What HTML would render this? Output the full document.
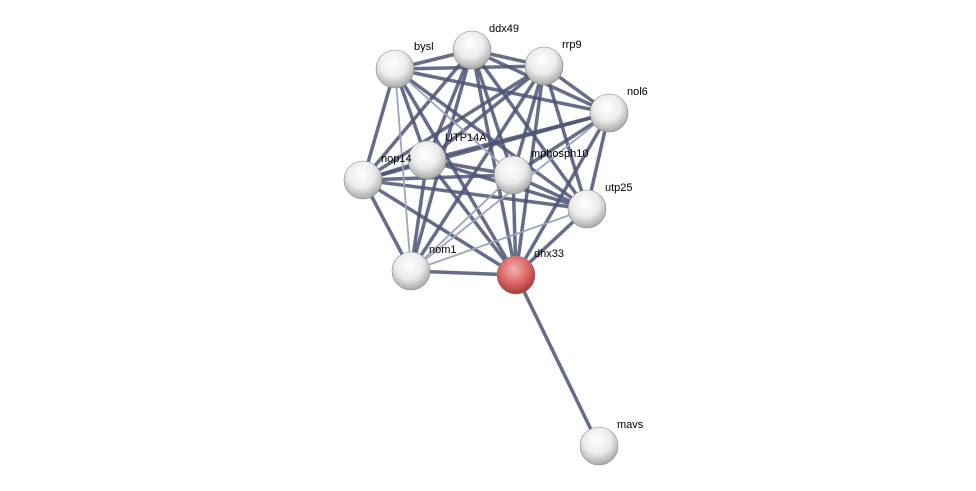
<!DOCTYPE html>
<html><head><meta charset="utf-8"><style>
html,body{margin:0;padding:0;background:#fff;}
svg{display:block;}
text{font-family:"Liberation Sans",sans-serif;font-size:11px;fill:#000;}
</style></head><body>
<svg width="976" height="491" viewBox="0 0 976 491" xmlns="http://www.w3.org/2000/svg">
<defs>
<radialGradient id="g" cx="45%" cy="35%" r="65%">
<stop offset="0" stop-color="#ffffff"/><stop offset="0.55" stop-color="#ececec"/><stop offset="1" stop-color="#a8a8a8"/>
</radialGradient>
<radialGradient id="r" cx="45%" cy="35%" r="65%">
<stop offset="0" stop-color="#f4b0b0"/><stop offset="0.55" stop-color="#dc6a6a"/><stop offset="1" stop-color="#a83838"/>
</radialGradient>
</defs>
<g stroke="#4c5474" stroke-width="3.5" stroke-opacity="0.85" stroke-linecap="round">
<line x1="599" y1="446" x2="516" y2="275"/>
<line x1="395" y1="69" x2="472" y2="50"/>
<line x1="395" y1="69" x2="544" y2="66"/>
<line x1="395" y1="69" x2="609" y2="113"/>
<line x1="395" y1="69" x2="427" y2="160"/>
<line x1="395" y1="69" x2="363" y2="180"/>
<line x1="395" y1="69" x2="516" y2="275"/>
<line x1="395" y1="69" x2="587" y2="209"/>
<line x1="472" y1="50" x2="544" y2="66"/>
<line x1="472" y1="50" x2="609" y2="113"/>
<line x1="472" y1="50" x2="427" y2="160"/>
<line x1="472" y1="50" x2="363" y2="180"/>
<line x1="472" y1="50" x2="513" y2="175"/>
<line x1="472" y1="50" x2="587" y2="209"/>
<line x1="472" y1="50" x2="411" y2="271"/>
<line x1="472" y1="50" x2="516" y2="275"/>
<line x1="544" y1="66" x2="609" y2="113"/>
<line x1="544" y1="66" x2="427" y2="160"/>
<line x1="544" y1="66" x2="363" y2="180"/>
<line x1="544" y1="66" x2="513" y2="175"/>
<line x1="544" y1="66" x2="587" y2="209"/>
<line x1="544" y1="66" x2="411" y2="271"/>
<line x1="544" y1="66" x2="516" y2="275"/>
<line x1="609" y1="113" x2="427" y2="160"/>
<line x1="609" y1="113" x2="363" y2="180"/>
<line x1="609" y1="113" x2="513" y2="175"/>
<line x1="609" y1="113" x2="587" y2="209"/>
<line x1="609" y1="113" x2="516" y2="275"/>
<line x1="427" y1="160" x2="363" y2="180"/>
<line x1="427" y1="160" x2="513" y2="175"/>
<line x1="427" y1="160" x2="587" y2="209"/>
<line x1="427" y1="160" x2="411" y2="271"/>
<line x1="427" y1="160" x2="516" y2="275"/>
<line x1="363" y1="180" x2="513" y2="175"/>
<line x1="363" y1="180" x2="587" y2="209"/>
<line x1="363" y1="180" x2="516" y2="275"/>
<line x1="363" y1="180" x2="411" y2="271"/>
<line x1="513" y1="175" x2="587" y2="209"/>
<line x1="513" y1="175" x2="516" y2="275"/>
<line x1="587" y1="209" x2="516" y2="275"/>
<line x1="411" y1="271" x2="516" y2="275"/>
</g>
<g stroke="#9ea4bc" stroke-width="1.8" stroke-linecap="round">
<line x1="395" y1="69" x2="513" y2="175"/>
<line x1="395" y1="69" x2="411" y2="271"/>
<line x1="411" y1="271" x2="513" y2="175"/>
<line x1="411" y1="271" x2="587" y2="209"/>
<line x1="411" y1="271" x2="609" y2="113"/>
</g>
<g stroke="#888" stroke-width="0.6">
<circle cx="395" cy="69" r="19" fill="url(#g)"/>
<circle cx="472" cy="50" r="19" fill="url(#g)"/>
<circle cx="544" cy="66" r="19" fill="url(#g)"/>
<circle cx="609" cy="113" r="19" fill="url(#g)"/>
<circle cx="363" cy="180" r="19" fill="url(#g)"/>
<circle cx="427" cy="160" r="19" fill="url(#g)"/>
<circle cx="513" cy="175" r="19" fill="url(#g)"/>
<circle cx="587" cy="209" r="19" fill="url(#g)"/>
<circle cx="411" cy="271" r="19" fill="url(#g)"/>
<circle cx="516" cy="275" r="19" fill="url(#r)"/>
<circle cx="599" cy="446" r="19" fill="url(#g)"/>
</g>
<text x="414" y="50">bysl</text>
<text x="489" y="32">ddx49</text>
<text x="562" y="48">rrp9</text>
<text x="627" y="95">nol6</text>
<text x="445" y="141">UTP14A</text>
<text x="381" y="162">nop14</text>
<text x="531" y="157">mphosph10</text>
<text x="605" y="191">utp25</text>
<text x="429" y="253">nom1</text>
<text x="534" y="257">dhx33</text>
<text x="617" y="428">mavs</text>
</svg>
</body></html>
